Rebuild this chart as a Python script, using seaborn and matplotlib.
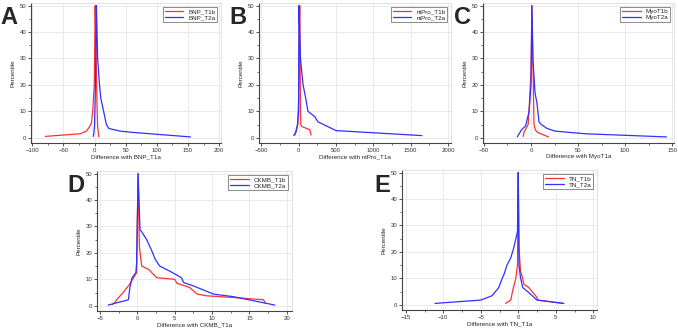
import numpy as np
import pandas as pd
import seaborn as sns
import matplotlib.pyplot as plt
from matplotlib.ticker import AutoMinorLocator

# mountain plot data: difference vs folded percentile
bnp_t1b_x = [-79, -23, -13, -8.5, -5, -3, -0.4, 1.0, 2.0, 3.0, 4.0, 5.0, 7.0]
bnp_t1b_y = [0.5, 1.5, 2.5, 4.0, 5.5, 10, 20, 50, 40, 25, 12, 4, 0.3]
bnp_t2a_x = [-2, -1, 0, 1, 2, 3, 4, 5, 8, 10, 14.6, 19, 23, 41, 62, 116, 154]
bnp_t2a_y = [0.5, 2, 5, 15, 30, 50, 40, 30, 20, 15, 10, 5, 3.5, 2.5, 2, 1, 0.3]

ntpro_t1b_x = [-50, -30, -10, 0, 15, 20, 25, 30, 40, 150, 165, 165]
ntpro_t1b_y = [1.0, 2.5, 5, 15, 50, 30, 10, 5, 4.3, 3, 1.5, 1.0]
ntpro_t2a_x = [-65, -40, -15, 0, 5, 15, 25, 60, 95, 125, 215, 260, 370, 500, 1650]
ntpro_t2a_y = [0.8, 2, 5, 10, 50, 40, 30, 20, 15, 10, 8, 6, 4.5, 2.7, 0.8]

myo_t1b_x = [-8.2, -7.5, -3, -1.8, 0, 1, 2, 3.2, 4.5, 7, 18.5]
myo_t1b_y = [0.5, 2, 5, 12, 25, 50, 30, 5, 3, 2, 0.3]
myo_t2a_x = [-14.6, -10, -5.7, -2, 0, 1, 2, 4.3, 6.4, 8.5, 11, 17, 25.6, 57.5, 144]
myo_t2a_y = [0.3, 3, 4.5, 10, 20, 50, 30, 17, 13, 6, 5, 3.5, 2.5, 1.5, 0.3]

ckmb_t1b_x = [-3.4, -3.0, -2.7, -1.9, -1.2, -0.76, -0.1, 0.1, 0.27, 0.58, 1.5, 2.6,
              5.0, 5.3, 7.0, 8.0, 9.3, 12.9, 16.9, 17.1]
ckmb_t1b_y = [0.4, 1.2, 2.5, 5, 7.5, 9.4, 12.5, 50, 22.5, 15, 13.75, 10.6,
              10, 8.5, 6.9, 4.4, 3.75, 3.1, 2.25, 1.0]
ckmb_t2a_x = [-3.9, -1.2, -1.0, -0.7, -0.2, -0.1, 0.1, 0.36, 0.58, 1.25, 1.9, 2.4,
              3.0, 4.4, 5.9, 6.2, 7.5, 10.2, 12.9, 18.4]
ckmb_t2a_y = [0.25, 2.25, 6.9, 10.6, 12.5, 16, 50, 28.75, 28, 25, 21, 17.5,
              15, 13, 10.6, 8.75, 7.5, 4.4, 3.4, 0.25]

tn_t1b_x = [-1.7, -1.0, -0.7, -0.35, -0.1, 0.0, 0.1, 0.3, 0.5, 0.75, 1.4, 2.5, 2.6, 6.1]
tn_t1b_y = [0.5, 1.75, 5.9, 9.6, 15, 50, 21.5, 12.75, 10.9, 7.75, 6.5, 2.75, 1.75, 0.5]
tn_t2a_x = [-11.1, -5.0, -3.5, -2.6, -2.1, -1.9, -1.5, -1.0, -0.6, -0.1, 0.0,
            0.1, 0.3, 0.6, 1.4, 2.5, 6.0]
tn_t2a_y = [0.5, 1.75, 3.4, 6.5, 10.25, 11.5, 15, 17.75, 21.5, 27.75, 50,
            15, 10.25, 6.5, 4.6, 1.75, 0.5]

panels = [
    ("A", "BNP_T1b", "BNP_T2a", "Difference with BNP_T1a",
     bnp_t1b_x, bnp_t1b_y, bnp_t2a_x, bnp_t2a_y),
    ("B", "ntPro_T1b", "ntPro_T2a", "Difference with ntPro_T1a",
     ntpro_t1b_x, ntpro_t1b_y, ntpro_t2a_x, ntpro_t2a_y),
    ("C", "MyoT1b", "MyoT2a", "Difference with MyoT1a",
     myo_t1b_x, myo_t1b_y, myo_t2a_x, myo_t2a_y),
    ("D", "CKMB_T1b", "CKMB_T2a", "Difference with CKMB_T1a",
     ckmb_t1b_x, ckmb_t1b_y, ckmb_t2a_x, ckmb_t2a_y),
    ("E", "TN_T1b", "TN_T2a", "Difference with TN_T1a",
     tn_t1b_x, tn_t1b_y, tn_t2a_x, tn_t2a_y),
]

# axes rects in pixels (left, top, right, bottom), x limits, x ticks, letter position
W, H = 678, 329
layout = [
    ((31, 3, 221, 143), (-102, 203), [-100, -50, 0, 50, 100, 150, 200], (0, 24)),
    ((259, 3, 451, 143), (-530, 2040), [-500, 0, 500, 1000, 1500, 2000], (229, 24)),
    ((483, 3, 674, 143), (-51, 152), [-50, 0, 50, 100, 150], (454, 24)),
    ((97, 171, 292, 311), (-5.4, 20.7), [-5, 0, 5, 10, 15, 20], (67, 192)),
    ((402, 170, 597, 310), (-15.5, 10.5), [-15, -10, -5, 0, 5, 10], (374, 192)),
]

sns.set_style("white")
plt.rcParams['font.family'] = ['Liberation Sans', 'DejaVu Sans']

fig = plt.figure(figsize=(W / 100, H / 100), dpi=100)

for (letter, lab1, lab2, xlabel, x1, y1, x2, y2), (rect, xlim, xt, lpos) in zip(panels, layout):
    l, t, r, b = rect
    ax = fig.add_axes([l / W, 1 - b / H, (r - l) / W, (b - t) / H])
    df = pd.concat([
        pd.DataFrame({"diff": x1, "pct": y1, "series": lab1}),
        pd.DataFrame({"diff": x2, "pct": y2, "series": lab2}),
    ])
    sns.lineplot(data=df, x="diff", y="pct", hue="series", sort=False, estimator=None,
                 units="series", palette=["#ff3030", "#3030ff"], linewidth=0.9, ax=ax)
    ax.set_xlim(*xlim)
    ax.set_ylim(-2, 51)
    ax.set_xticks(xt)
    ax.set_yticks([0, 10, 20, 30, 40, 50])
    ax.yaxis.set_minor_locator(AutoMinorLocator(2))
    ax.xaxis.set_minor_locator(AutoMinorLocator(2))
    ax.grid(True, color="#e6e6e6", linewidth=0.6)
    ax.set_axisbelow(True)
    ax.tick_params(axis="both", which="major", labelsize=4.3, length=2.5, width=0.6,
                   colors="#333333", pad=1.0, bottom=True, left=True)
    ax.tick_params(axis="both", which="minor", length=1.5, width=0.5, colors="#333333",
                   bottom=True, left=True)
    for s in ["left", "bottom"]:
        ax.spines[s].set_color("#444444")
        ax.spines[s].set_linewidth(0.8)
    for s in ["top", "right"]:
        ax.spines[s].set_color("#dddddd")
        ax.spines[s].set_linewidth(0.6)
    ax.set_xlabel(xlabel, fontsize=4.5, labelpad=1)
    ax.set_ylabel("Percentile", fontsize=4.5, labelpad=3)
    leg = ax.legend(loc="upper right", fontsize=4.5, frameon=True, fancybox=False,
                    edgecolor="#555555", handlelength=3.0, borderpad=0.3,
                    labelspacing=0.1, borderaxespad=0.6)
    leg.get_frame().set_linewidth(0.6)
    fig.text(lpos[0] / W, 1 - lpos[1] / H, letter, fontsize=17, fontweight="bold",
             ha="left", va="baseline")

fig.savefig("out.png", dpi=100)
